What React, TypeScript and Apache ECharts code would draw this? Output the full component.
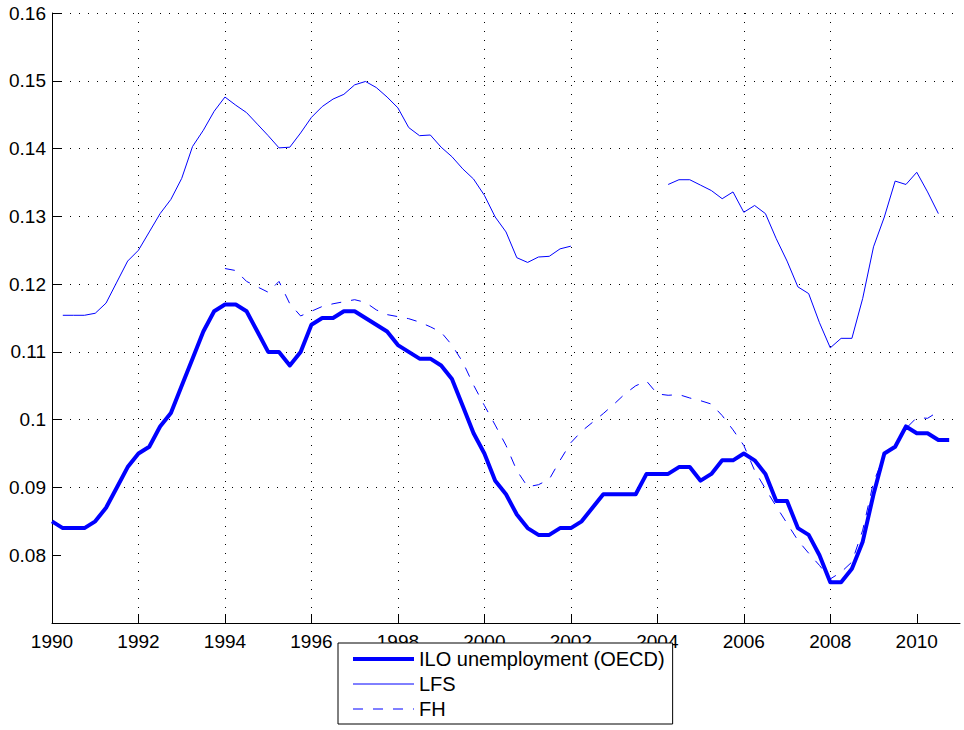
import { useEffect, useRef } from 'react';
import * as echarts from 'echarts';

// Quarterly observations (step 0.25 year)
const ILO_START = 1990;
const ILO = [
  0.085, 0.084, 0.084, 0.084,
  0.085, 0.087, 0.090, 0.093,
  0.095, 0.096, 0.099, 0.101,
  0.105, 0.109, 0.113, 0.116,
  0.117, 0.117, 0.116, 0.113,
  0.110, 0.110, 0.108, 0.110,
  0.114, 0.115, 0.115, 0.116,
  0.116, 0.115, 0.114, 0.113,
  0.111, 0.110, 0.109, 0.109,
  0.108, 0.106, 0.102, 0.098,
  0.095, 0.091, 0.089, 0.086,
  0.084, 0.083, 0.083, 0.084,
  0.084, 0.085, 0.087, 0.089,
  0.089, 0.089, 0.089, 0.092,
  0.092, 0.092, 0.093, 0.093,
  0.091, 0.092, 0.094, 0.094,
  0.095, 0.094, 0.092, 0.088,
  0.088, 0.084, 0.083, 0.080,
  0.076, 0.076, 0.078, 0.082,
  0.089, 0.095, 0.096, 0.099,
  0.098, 0.098, 0.097, 0.097,
];

const LFS_START = 1990;
const LFS: (number | null)[] = [
  null, 0.1154, 0.1154, 0.1154,
  0.1157, 0.1172, 0.1203, 0.1234,
  0.1250, 0.1277, 0.1304, 0.1325,
  0.1356, 0.1403, 0.1427, 0.1455,
  0.1476, 0.1464, 0.1453, 0.1436,
  0.1419, 0.1401, 0.1402, 0.1423,
  0.1446, 0.1462, 0.1473, 0.1480,
  0.1494, 0.1499, 0.1490, 0.1476,
  0.1460, 0.1431, 0.1419, 0.1420,
  0.1402, 0.1388, 0.1370, 0.1355,
  0.1331, 0.1299, 0.1277, 0.1239,
  0.1232, 0.1240, 0.1241, 0.1252,
  0.1256, null, null, null,
  null, null, null, null,
  null, 0.1347, 0.1354, 0.1354,
  0.1346, 0.1338, 0.1326, 0.1336,
  0.1306, 0.1316, 0.1304, 0.1267,
  0.1234, 0.1196, 0.1186, 0.1143,
  0.1106, 0.1120, 0.1120, 0.1179,
  0.1255, 0.1299, 0.1352, 0.1347,
  0.1365, 0.1336, 0.1304,
];

const FH_START = 1994;
const FH = [
  0.1223, 0.1220, 0.1204, 0.1196,
  0.1188, 0.1204, 0.1171, 0.1153,
  0.1160, 0.1167, 0.1171, 0.1174,
  0.1177, 0.1173, 0.1162, 0.1155,
  0.1152, 0.1149, 0.1144, 0.1137,
  0.1129, 0.1110, 0.1085, 0.1051,
  0.1021, 0.0992, 0.0962, 0.0925,
  0.0901, 0.0904, 0.0912, 0.0940,
  0.0966, 0.0983, 0.0996, 0.1009,
  0.1023, 0.1038, 0.1050, 0.1057,
  0.1038, 0.1036, 0.1037, 0.1032,
  0.1028, 0.1023, 0.1006, 0.0985,
  0.0962, 0.0925, 0.0898, 0.0872,
  0.0847, 0.0822, 0.0803, 0.0785,
  0.0765, 0.0775, 0.0790, 0.0837,
  0.0908, 0.0947, 0.0962, 0.0987,
  0.1003, 0.1002, 0.1012,
];

const X_TICKS = [1990, 1992, 1994, 1996, 1998, 2000, 2002, 2004, 2006, 2008, 2010];
const Y_TICKS = [0.08, 0.09, 0.1, 0.11, 0.12, 0.13, 0.14, 0.15, 0.16];
const NAMES = ['ILO unemployment (OECD)', 'LFS', 'FH'];

const QUARTER = 0.25;
const toPairs = (start: number, vals: (number | null)[]) =>
  vals.map((v, i) => [start + i * QUARTER, v === null ? '-' : v]);

const FONT = '"Liberation Sans", Arial, Helvetica, sans-serif';
const BLUE = '#0000ff';
const DASH = [10, 10];
const HIDDEN_SYMBOL = { color: 'rgba(0,0,0,0)', borderWidth: 0, opacity: 0 };

export default function App() {
  const ref = useRef<HTMLDivElement>(null);
  useEffect(() => {
    if (!ref.current) return;
    const chart = echarts.init(ref.current, undefined, { renderer: 'svg' });
    const gridLine = { show: true, lineStyle: { color: '#000', width: 1, type: [1, 8] as any } };
    chart.setOption({
      animation: false,
      textStyle: { fontFamily: FONT },
      grid: { left: 52, right: 4, top: 13, bottom: 107, outerBoundsMode: 'none' } as any,
      xAxis: {
        type: 'value',
        min: 1990,
        max: 2011,
        interval: 2,
        axisLine: { show: true, onZero: false, lineStyle: { color: '#000', width: 1 } },
        axisTick: { show: true, inside: true, length: 9, customValues: X_TICKS, lineStyle: { color: '#000' } },
        axisLabel: {
          customValues: X_TICKS,
          formatter: (v: number) => String(v),
          fontSize: 19,
          lineHeight: 15,
          color: '#000',
          margin: 11,
          fontFamily: FONT,
        },
        splitLine: { ...gridLine, showMinLine: false, showMaxLine: false },
      },
      yAxis: {
        type: 'value',
        min: 0.07,
        max: 0.16,
        interval: 0.01,
        axisLine: { show: true, onZero: false, lineStyle: { color: '#000', width: 1 } },
        axisTick: { show: true, inside: true, length: 9, customValues: Y_TICKS, lineStyle: { color: '#000' } },
        axisLabel: {
          customValues: Y_TICKS,
          formatter: (v: number) => String(Number(v.toFixed(2))),
          fontSize: 19,
          color: '#000',
          margin: 6,
          fontFamily: FONT,
        },
        splitLine: { ...gridLine, showMinLine: false, showMaxLine: true },
      },
      legend: {
        orient: 'vertical',
        left: 338,
        top: 643,
        backgroundColor: '#fff',
        borderColor: '#000',
        borderWidth: 1,
        borderRadius: 0,
        padding: [6, 8, 5, 13],
        itemGap: 5,
        itemWidth: 61,
        itemHeight: 14,
        selectedMode: false,
        textStyle: { fontSize: 20, color: '#000', lineHeight: 20, fontFamily: FONT },
        itemStyle: HIDDEN_SYMBOL,
        data: [
          { name: NAMES[0], lineStyle: { width: 4, color: BLUE }, itemStyle: HIDDEN_SYMBOL },
          { name: NAMES[1], lineStyle: { width: 1, color: BLUE }, itemStyle: HIDDEN_SYMBOL },
          { name: NAMES[2], lineStyle: { width: 1, color: BLUE, type: DASH }, itemStyle: HIDDEN_SYMBOL },
        ],
      },
      series: [
        {
          name: NAMES[0],
          type: 'line',
          symbol: 'none',
          data: toPairs(ILO_START, ILO),
          lineStyle: { color: BLUE, width: 4, join: 'round' },
          itemStyle: { color: BLUE },
        },
        {
          name: NAMES[1],
          type: 'line',
          symbol: 'none',
          connectNulls: false,
          data: toPairs(LFS_START, LFS),
          lineStyle: { color: BLUE, width: 1 },
          itemStyle: { color: BLUE },
        },
        {
          name: NAMES[2],
          type: 'line',
          symbol: 'none',
          data: toPairs(FH_START, FH),
          lineStyle: { color: BLUE, width: 1, type: DASH },
          itemStyle: { color: BLUE },
        },
      ],
    });
    return () => chart.dispose();
  }, []);
  return (
    <div
      ref={ref}
      style={{ position: 'fixed', left: 0, top: 0, width: 964, height: 730, background: '#fff' }}
    />
  );
}
